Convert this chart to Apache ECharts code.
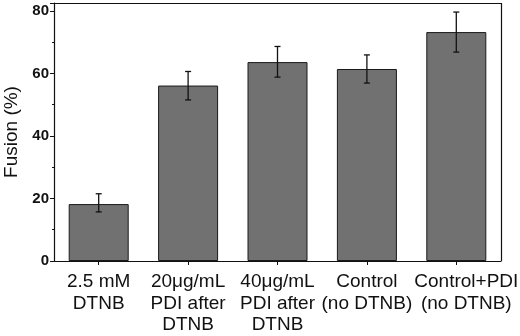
<!DOCTYPE html>
<html>
<head>
<meta charset="utf-8">
<script src="https://cdn.jsdelivr.net/npm/echarts@6/dist/echarts.min.js"></script>
<style>
html,body{margin:0;padding:0;background:#fff;}
#chart{width:520px;height:336px;}
</style>
</head>
<body>
<div id="chart"></div>
<script>
var categories=['2.5 mM\nDTNB','20μg/mL\nPDI after\nDTNB','40μg/mL\nPDI after\nDTNB','Control\n(no DTNB)','Control+PDI\n(no DTNB)'];
var fusion=[18.2,56.1,63.6,61.4,73.2];
var errUp=[21.5,60.6,68.6,65.9,79.6];
var errDown=[15.7,51.5,58.8,56.9,66.8];
var yTicks=[0,20,40,60,80];

var myChart=echarts.init(document.getElementById('chart'));
var errData=[];
for(var i=0;i<categories.length;i++){
	errData.push([i,errDown[i],errUp[i]]);
}
//最后一个标签往右挪一点,原图就是这样
var catData=categories.map(function(c,i){
	if(i==categories.length-1){
		return {value:c,textStyle:{padding:[0,0,0,20]}};
	}
	return c;
});
var option={
	animation:false,
	grid:{
		left:54,
		right:19,
		top:3,
		bottom:75,
		containLabel:false,
		outerBoundsMode:'none'
	},
	xAxis:{
		type:'category',
		data:catData,
		axisLine:{lineStyle:{color:'#111',width:1.2}},
		axisTick:{show:true,alignWithLabel:true,length:4,lineStyle:{color:'#111'}},
		axisLabel:{
			color:'#111',
			fontFamily:'Liberation Sans, Arial',
			fontSize:19,
			lineHeight:21.7,
			margin:10,
			interval:0,
			hideOverlap:false
		}
	},
	yAxis:{
		type:'value',
		min:0,
		max:82.5,
		interval:20,
		name:'Fusion (%)',
		nameLocation:'middle',
		nameGap:31,
		nameTextStyle:{color:'#111',fontFamily:'Liberation Sans, Arial',fontSize:19},
		axisLine:{show:true,lineStyle:{color:'#111',width:1.2}},
		axisTick:{show:true,length:4,lineStyle:{color:'#111'}},
		minorTick:{show:true,splitNumber:2,length:2,lineStyle:{color:'#111'}},
		splitLine:{show:false},
		axisLabel:{
			color:'#111',
			fontFamily:'Liberation Sans, Arial',
			fontSize:15,
			fontWeight:'bold',
			margin:5,
			formatter:function(v){return yTicks.indexOf(v)>=0?String(v):'';}
		}
	},
	series:[{
		type:'bar',
		data:fusion,
		barWidth:60,
		itemStyle:{color:'#717171',borderColor:'#1a1a1a',borderWidth:1}
	},{
		type:'custom',
		data:errData,
		z:5,
		renderItem:function(params,api){
			var x=api.value(0);
			var lo=api.coord([x,api.value(1)]);
			var hi=api.coord([x,api.value(2)]);
			var w=3;
			var st={stroke:'#111',lineWidth:1.3};
			return {type:'group',children:[
				{type:'line',shape:{x1:hi[0],y1:hi[1],x2:lo[0],y2:lo[1]},style:st},
				{type:'line',shape:{x1:hi[0]-w,y1:hi[1],x2:hi[0]+w,y2:hi[1]},style:st},
				{type:'line',shape:{x1:lo[0]-w,y1:lo[1],x2:lo[0]+w,y2:lo[1]},style:st}
			]};
		}
	},{
		// 上边和右边的框线
		type:'line',
		data:[],
		markLine:{
			silent:true,
			symbol:'none',
			label:{show:false},
			lineStyle:{color:'#111',width:1.2,type:'solid'},
			data:[[{x:54,y:3},{x:501,y:3}],[{x:501,y:3},{x:501,y:261}]]
		}
	}]
};
myChart.setOption(option);
</script>
</body>
</html>
